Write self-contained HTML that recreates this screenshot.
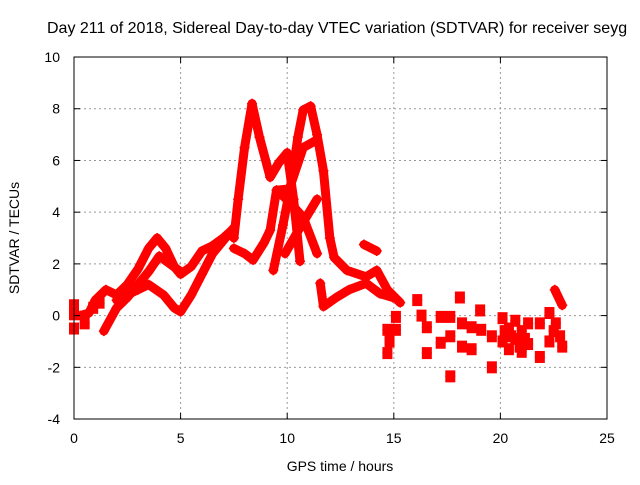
<!DOCTYPE html>
<html><head><meta charset="utf-8"><style>
body{margin:0;background:#fff}
svg text{font-family:"Liberation Sans",sans-serif;font-size:14px;fill:#000}
</style></head><body>
<svg id="chart" width="640" height="480" viewBox="0 0 640 480">
<rect width="640" height="480" fill="#fff"/>
<text x="47" y="33" style="font-size:16px">Day 211 of 2018, Sidereal Day-to-day VTEC variation (SDTVAR) for receiver seyg</text>
<g id="grid"></g><g id="series"></g><g id="axes"></g>
<text transform="translate(19,238) rotate(-90)" text-anchor="middle">SDTVAR / TECUs</text>
<text x="340" y="471" text-anchor="middle">GPS time / hours</text>
</svg>
<script>
const xTicks=[0,5,10,15,20,25];
const yTicks=[-4,-2,0,2,4,6,8,10];
const trackA=[[0.3,0],[0.7,0.1],[1,0.6],[1.5,1.0],[2,0.8],[2.5,1.2],[3,1.8],[3.5,2.6],[3.9,3.0],[4.3,2.6],[4.7,1.9],[5,1.6],[5.5,1.9],[6,2.5],[6.5,2.7],[7,3.0],[7.4,3.3]];
const trackB=[[1.4,-0.6],[2,0.3],[2.5,0.7],[3,1.2],[3.5,1.7],[4,2.3],[4.5,2.0],[5,1.7]];
const trackC=[[2,0.6],[3,1.0],[3.5,1.2],[4.2,0.8],[4.7,0.3],[5,0.15],[5.5,0.8],[6,1.6],[6.5,2.4],[7,2.9],[7.5,3.4]];
const trackD=[[7.5,3.0],[7.7,4.5],[8,6.5],[8.35,8.2],[8.7,6.9],[9.2,5.35],[9.6,5.9],[10,6.3],[10.3,4.5],[10.6,2.1]];
const trackE=[[7.5,2.6],[8,2.4],[8.4,2.15],[8.9,2.8],[9.2,3.3],[9.5,4.85],[10.1,4.9],[10.75,6.5],[11.4,6.8]];
const trackF=[[9.35,1.75],[9.8,3.5],[10.2,5.2],[10.5,6.9],[10.75,7.95],[11.1,8.1],[11.4,7.0],[11.7,5.6],[12,3.0],[12.2,2.25],[12.8,1.75],[13.7,1.5],[14.2,1.75],[14.7,1.0],[15.3,0.5]];
const trackG=[[9.5,4.85],[10.1,4.4],[10.75,3.8],[11.4,2.4]];
const trackH=[[9.9,2.4],[10.6,3.4],[11.4,4.5]];
const trackI=[[11.55,1.25],[11.7,0.35],[12.3,0.7],[12.9,1.0],[13.7,1.25],[14.35,0.85],[14.95,0.7]];
const trackJ=[[13.6,2.75],[14.2,2.5]];
const trackK=[[22.55,1.0],[22.9,0.4]];
const scatterX=[0,0,0,0.5,0.9,1.2,14.7,14.7,15.1,15.1,14.8,16.1,16.3,16.55,16.55,17.2,17.2,17.65,17.65,17.65,18.1,18.2,18.2,18.65,18.65,19.05,19.1,19.6,19.6,20.1,20.1,20.4,20.4,20.7,20.7,21,21,21.3,21.3,20.2,20.9,21.15,20.5,21.85,21.85,22.3,22.5,22.9,22.6,22.3,22.8];
const scatterY=[0.4,0.05,-0.5,-0.3,0.3,0.5,-1.45,-0.55,-0.55,-0.05,-1.0,0.6,0.0,-0.45,-1.45,-0.05,-1.05,-0.8,-2.35,-0.05,0.7,-0.3,-1.2,-0.45,-1.3,0.2,-0.55,-0.8,-2.0,-0.1,-1.0,-0.5,-1.3,-0.2,-0.9,-0.6,-1.4,-0.3,-1.1,-0.6,-1.2,-0.9,-0.8,-0.3,-1.6,0.1,-0.6,-1.2,-0.3,-1.0,-0.8];
const X=h=>74+h*(607-74)/25;
const Y=v=>315.6-v*(419-57)/14;
const NS='http://www.w3.org/2000/svg';
const mk=(t,a,p)=>{const e=document.createElementNS(NS,t);for(const k in a)e.setAttribute(k,a[k]);p.appendChild(e);return e;};
const grid=document.getElementById('grid'),axes=document.getElementById('axes'),ser=document.getElementById('series');
xTicks.forEach(t=>{
  if(t>0&&t<25){const g=mk('line',{x1:X(t),x2:X(t),y1:57,y2:419,stroke:'#999','stroke-dasharray':'2,3'},grid);
  
  }
  const l=mk('text',{x:X(t),y:443,'text-anchor':'middle'},axes);l.textContent=t;
  
  
  mk('line',{x1:X(t),x2:X(t),y1:419,y2:413,stroke:'#000'},axes);
  mk('line',{x1:X(t),x2:X(t),y1:57,y2:63,stroke:'#000'},axes);
});
yTicks.forEach(t=>{
  if(t>-4&&t<10){const g=mk('line',{x1:74,x2:607,y1:Y(t),y2:Y(t),stroke:'#999','stroke-dasharray':'2,3'},grid);
  
  }
  const l=mk('text',{x:60,y:Y(t)+5,'text-anchor':'end'},axes);l.textContent=t;
  
  
  mk('line',{x1:74,x2:80,y1:Y(t),y2:Y(t),stroke:'#000'},axes);
  mk('line',{x1:601,x2:607,y1:Y(t),y2:Y(t),stroke:'#000'},axes);
});
const fr=mk('rect',{x:74,y:57,width:533,height:362,fill:'none',stroke:'#000'},axes);


function plus(h,v,p){mk('path',{d:`M${X(h)-5},${Y(v)}h10M${X(h)},${Y(v)-5}v10`,stroke:'#f00','stroke-width':1.5},p);}
[trackA,trackB,trackC,trackD,trackE,trackF,trackG,trackH,trackI,trackJ,trackK].forEach((tr,i)=>{
  const g=mk('g',{},ser);
  
  
  mk('polyline',{points:tr.map(p=>X(p[0])+','+Y(p[1])).join(' '),fill:'none',stroke:'#f00','stroke-width':9,'stroke-linejoin':'round','stroke-linecap':'round'},g);
  tr.forEach(p=>plus(p[0],p[1],g));
});
const sg=mk('g',{},ser);


scatterX.forEach((h,i)=>{
  mk('rect',{x:X(h)-5,y:Y(scatterY[i])-6,width:10,height:12,fill:'#f00'},sg);
  plus(h,scatterY[i],sg);
});
</script>
</body></html>
